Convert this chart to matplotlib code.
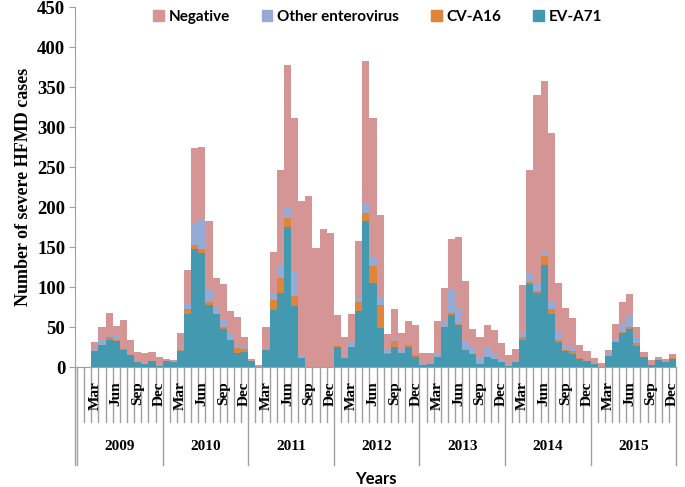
import numpy as np
import matplotlib.pyplot as plt
from matplotlib.transforms import blended_transform_factory
from matplotlib.patches import Patch

# monthly severe HFMD cases, Jan 2009 - Dec 2015
years = [2009, 2010, 2011, 2012, 2013, 2014, 2015]
month_names = ["Jan", "Feb", "Mar", "Apr", "May", "Jun",
               "Jul", "Aug", "Sep", "Oct", "Nov", "Dec"]
shown_months = ["Mar", "Jun", "Sep", "Dec"]

ev_a71 = [0, 0, 20, 28, 34, 32, 21, 15, 6, 4, 8, 1,
          7, 6, 20, 66, 148, 142, 77, 66, 48, 34, 18, 19,
          8, 0, 21, 71, 92, 175, 76, 11, 0, 0, 0, 0,
          25, 11, 25, 70, 183, 105, 49, 16, 25, 18, 25, 13,
          3, 4, 13, 50, 65, 52, 21, 16, 4, 13, 10, 6,
          1, 6, 34, 104, 92, 127, 66, 31, 20, 16, 10, 7,
          4, 0, 14, 31, 43, 48, 26, 12, 2, 9, 6, 10]
cv_a16 = [0, 0, 0, 0, 3, 2, 1, 0, 0, 0, 0, 0,
          0, 0, 1, 6, 4, 5, 4, 0, 2, 0, 6, 4,
          0, 0, 0, 13, 19, 11, 13, 0, 0, 0, 0, 0,
          1, 0, 0, 11, 10, 21, 28, 2, 7, 0, 2, 2,
          0, 0, 0, 0, 2, 2, 0, 0, 0, 0, 0, 0,
          0, 0, 3, 2, 3, 12, 6, 3, 1, 4, 1, 0,
          0, 0, 0, 0, 1, 2, 4, 0, 1, 0, 0, 1]
other_ev = [0, 0, 1, 7, 3, 5, 1, 0, 2, 1, 0, 0,
            0, 0, 3, 7, 28, 38, 15, 9, 10, 7, 2, 2,
            0, 0, 0, 8, 17, 14, 31, 3, 0, 0, 0, 0,
            0, 2, 6, 5, 12, 12, 9, 3, 3, 5, 1, 0,
            1, 1, 4, 8, 30, 21, 12, 9, 7, 12, 6, 3,
            1, 2, 4, 10, 9, 5, 9, 11, 7, 4, 0, 0,
            1, 0, 3, 4, 10, 15, 7, 1, 0, 0, 1, 0]
negative = [0, 0, 10, 15, 27, 12, 36, 19, 11, 13, 11, 11,
            3, 3, 19, 42, 94, 90, 87, 36, 44, 29, 36, 13,
            2, 3, 29, 52, 118, 177, 191, 193, 214, 149, 173, 168,
            39, 25, 35, 71, 178, 173, 104, 20, 38, 20, 30, 37,
            14, 13, 41, 41, 63, 88, 74, 22, 27, 28, 30, 21,
            13, 14, 61, 130, 236, 213, 211, 60, 46, 37, 16, 13,
            6, 5, 4, 19, 27, 26, 13, 6, 6, 3, 3, 5]

c_ev = "#4299b0"
c_cv = "#e0843a"
c_oth = "#95aad4"
c_neg = "#d59595"
grey = "#a0a0a0"

serif = {"family": "Liberation Serif", "weight": "bold"}
sans = {"family": "Lato", "weight": "bold"}

x = np.arange(len(ev_a71))
ev = np.array(ev_a71)
cv = np.array(cv_a16)
oth = np.array(other_ev)
neg = np.array(negative)

fig = plt.figure(figsize=(6.85, 4.87), dpi=100)
ax = fig.add_axes([0.1095, 0.2464, 0.8775, 0.7392])

ax.bar(x, ev, width=1.0, color=c_ev, linewidth=0)
ax.bar(x, cv, width=1.0, bottom=ev, color=c_cv, linewidth=0)
ax.bar(x, oth, width=1.0, bottom=ev + cv, color=c_oth, linewidth=0)
ax.bar(x, neg, width=1.0, bottom=ev + cv + oth, color=c_neg, linewidth=0)

ax.set_xlim(-0.79, len(x) - 0.5)
ax.set_ylim(0, 450)
ax.set_yticks(np.arange(0, 451, 50))
ax.set_yticklabels([str(v) for v in range(0, 451, 50)], fontdict=serif, fontsize=13.5)
ax.tick_params(axis="y", length=4, color=grey, pad=3)
ax.set_xticks([])
for s in ["top", "right"]:
    ax.spines[s].set_visible(False)
for s in ["left", "bottom"]:
    ax.spines[s].set_color(grey)

ax.set_ylabel("Number of severe HFMD cases", fontdict=serif, fontsize=13, labelpad=4)

# category axis drawn by hand: month ticks, month labels, year groups
trans = blended_transform_factory(ax.transData, ax.transAxes)
n = len(x)
for i in range(n + 1):
    xb = i - 0.5
    if i % 12 == 0:
        ax.plot([xb, xb], [0, -0.272], color=grey, lw=1, transform=trans, clip_on=False)
    else:
        ax.plot([xb, xb], [0, -0.153], color=grey, lw=1, transform=trans, clip_on=False)
ax.plot([-0.79, -0.79], [0, -0.272], color=grey, lw=1, transform=trans, clip_on=False)

for i in range(n):
    m = month_names[i % 12]
    if m in shown_months:
        ax.text(i, -0.04, m, rotation=90, ha="center", va="top", fontdict=serif,
                fontsize=11, transform=trans)

for k, yr in enumerate(years):
    ax.text(k * 12 + 5.5, -0.222, str(yr), ha="center", va="center", fontdict=serif,
            fontsize=11, transform=trans)

ax.text(0.5, -0.31, "Years", ha="center", va="center", fontdict=sans, fontsize=12,
        transform=ax.transAxes)

handles = [Patch(color=c_neg, label="Negative"),
           Patch(color=c_oth, label="Other enterovirus"),
           Patch(color=c_cv, label="CV-A16"),
           Patch(color=c_ev, label="EV-A71")]
fig.legend(handles=handles, ncol=4, loc="center", bbox_to_anchor=(0.551, 0.965),
           frameon=False, prop={"family": "Lato", "weight": "bold", "size": 11},
           handlelength=0.7, handleheight=0.7, handletextpad=0.3, columnspacing=2.1)

fig.savefig("out.png", dpi=100)
